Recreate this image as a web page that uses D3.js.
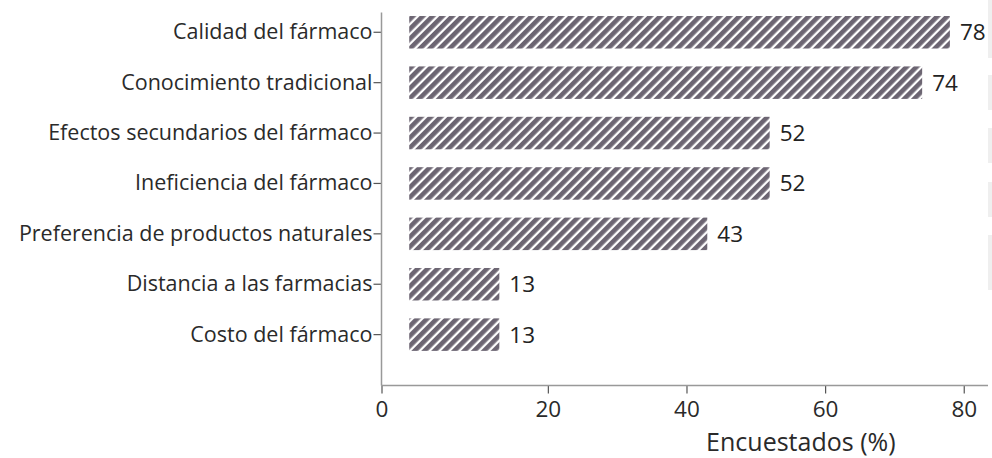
<!DOCTYPE html>
<html>
<head>
<meta charset="utf-8">
<script src="https://cdn.jsdelivr.net/npm/d3@7/dist/d3.min.js"></script>
<style>
  html, body { margin: 0; padding: 0; background: #fff; }
  svg { display: block; }
  svg text { font-family: "Open Sans", "Noto Sans", sans-serif; }
</style>
</head>
<body>
<svg id="chart" width="992" height="458"></svg>
<script>
// Reasons given for using traditional remedies (% of respondents)
const categories = [
  "Calidad del fármaco",
  "Conocimiento tradicional",
  "Efectos secundarios del fármaco",
  "Ineficiencia del fármaco",
  "Preferencia de productos naturales",
  "Distancia a las farmacias",
  "Costo del fármaco"
];
const values = [78, 74, 52, 52, 43, 13, 13];
const xTickLabels = ["0", "20", "40", "60", "80"];
const xTickValues = [20, 40, 60, 80];
const xTitle = "Encuestados (%)";

const svg = d3.select("#chart");
const plot = { left: 381.5, right: 988, top: 12.5, bottom: 385.5 };
const fontSize = 21.5;
const tickFontSize = 22.5;
const titleFontSize = 25;
const barColor = "#6c6572";
const textColor = "#2a2a2a";

// x scale: the axis origin sits a little left of zero
const x = d3.scaleLinear().domain([-4, 83.5]).range([plot.left, plot.right]);
const y = d3.scaleBand()
  .domain(categories)
  .range([13.5, 353.4])
  .paddingInner(0.355)
  .paddingOuter(0.05);

// diagonal hatch fill
const defs = svg.append("defs");
const pat = defs.append("pattern")
  .attr("id", "hatch")
  .attr("patternUnits", "userSpaceOnUse")
  .attr("width", 7).attr("height", 7)
  .attr("patternTransform", "rotate(45)");
pat.append("rect").attr("width", 7).attr("height", 7).attr("fill", "#fff");
pat.append("rect").attr("x", 0).attr("width", 4.7).attr("height", 7).attr("fill", barColor);

// faint strip along the right edge
const edgeBands = [[0, 58], [75, 110], [128, 163], [182, 217], [235, 290]];
svg.append("g").selectAll("rect").data(edgeBands).join("rect")
  .attr("x", 988).attr("width", 4)
  .attr("y", d => d[0]).attr("height", d => d[1] - d[0])
  .attr("fill", "#efefef");

// bars
svg.append("g").selectAll("rect").data(values).join("rect")
  .attr("x", x(0))
  .attr("y", (d, i) => y(categories[i]))
  .attr("width", d => x(d) - x(0))
  .attr("height", y.bandwidth())
  .attr("fill", "url(#hatch)");

// value labels
svg.append("g").selectAll("text").data(values).join("text")
  .attr("x", d => x(d) + 10)
  .attr("y", (d, i) => y(categories[i]) + y.bandwidth() / 2)
  .attr("dy", "0.35em")
  .attr("font-size", tickFontSize)
  .attr("fill", "#222")
  .text(d => d);

// y axis
const yAxis = svg.append("g")
  .attr("transform", `translate(${plot.left},0)`)
  .call(d3.axisLeft(y).tickSize(8).tickPadding(1).tickSizeOuter(0))
  .attr("font-family", null).attr("font-size", fontSize);
yAxis.select(".domain").remove();
yAxis.append("line")
  .attr("class", "axis-line")
  .attr("x1", 0).attr("x2", 0)
  .attr("y1", plot.top).attr("y2", plot.bottom);
yAxis.selectAll("text").attr("fill", textColor);

// x axis
const xAxis = svg.append("g")
  .attr("transform", `translate(0,${plot.bottom})`)
  .call(d3.axisBottom(x)
    .tickValues([x.domain()[0], ...xTickValues])
    .tickFormat((d, i) => xTickLabels[i])
    .tickSize(8).tickPadding(8).tickSizeOuter(0))
  .attr("font-family", null).attr("font-size", tickFontSize);
xAxis.select(".domain").remove();
xAxis.append("line")
  .attr("class", "axis-line")
  .attr("x1", plot.left).attr("x2", plot.right)
  .attr("y1", 0).attr("y2", 0);
xAxis.selectAll("text").attr("fill", textColor);

svg.selectAll(".tick line").attr("stroke", "#555").attr("stroke-width", 1.2);
svg.selectAll(".axis-line").attr("stroke", "#999").attr("stroke-width", 1.5);

// axis title
svg.append("text")
  .attr("x", x(56.5))
  .attr("y", 442)
  .attr("dy", "0.35em")
  .attr("text-anchor", "middle")
  .attr("font-size", titleFontSize)
  .attr("fill", textColor)
  .text(xTitle);
</script>
</body>
</html>
